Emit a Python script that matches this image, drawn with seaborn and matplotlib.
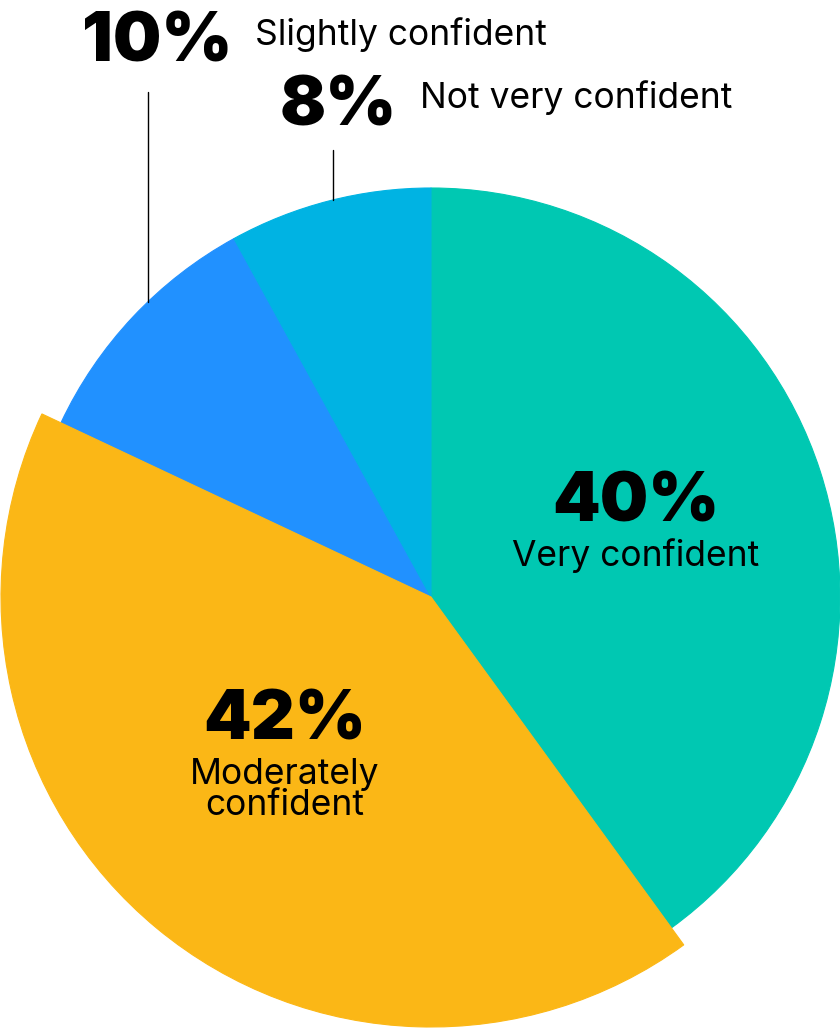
import matplotlib
matplotlib.use("Agg")
import matplotlib.pyplot as plt
import seaborn as sns

# ---- data ----
categories = ["Very confident", "Moderately confident", "Slightly confident", "Not very confident"]
percents = [40, 42, 10, 8]
slice_colors = ["#00C8B2", "#FBB716", "#2191FF", "#00B3E3"]

sns.set_theme(style="white")
plt.rcParams["font.family"] = ["Inter", "DejaVu Sans"]

W, H = 840, 1028
fig = plt.figure(figsize=(W / 100, H / 100), dpi=100)
ax = fig.add_axes([0, 0, 1, 1])

cx, cy = 431, H - 597
R = 409
palette = sns.color_palette(slice_colors)
wedges, _ = ax.pie(percents, colors=palette, startangle=90, counterclock=False,
                   center=(cx, cy), radius=R, wedgeprops=dict(linewidth=0.8))
for w in wedges:
    w.set_edgecolor(w.get_facecolor())
# the "Moderately confident" slice is drawn slightly larger
wedges[1].set_radius(430)
wedges[1].set_zorder(wedges[0].get_zorder() + 0.1)

ax.set_xlim(0, W)
ax.set_ylim(0, H)
ax.set_aspect("equal")
ax.axis("off")

def Y(y):
    return H - y

big = dict(fontsize=49, fontweight=900, color="black")
small = dict(fontsize=25.5, fontweight="normal", color="black")

# inside labels
ax.text(636, Y(522), f"{percents[0]}%", ha="center", va="baseline", **big)
ax.text(636, Y(566), "Very confident", ha="center", va="baseline", **small)
ax.text(285, Y(740), f"{percents[1]}%", ha="center", va="baseline", **big)
ax.text(285, Y(784), "Moderately", ha="center", va="baseline", **small)
ax.text(285, Y(815), "confident", ha="center", va="baseline", **small)

# outside labels
ax.text(232, Y(62), f"{percents[2]}%", ha="right", va="baseline", **big)
ax.text(255, Y(45), "Slightly confident", ha="left", va="baseline", **small)
ax.text(397, Y(125), f"{percents[3]}%", ha="right", va="baseline", **big)
ax.text(420, Y(108), "Not very confident", ha="left", va="baseline", **small)

# leader lines
ax.plot([148, 148], [Y(92), Y(302)], color="black", lw=1)
ax.plot([333, 333], [Y(150), Y(200)], color="black", lw=1)

fig.savefig("out.png", dpi=100, facecolor="white")
